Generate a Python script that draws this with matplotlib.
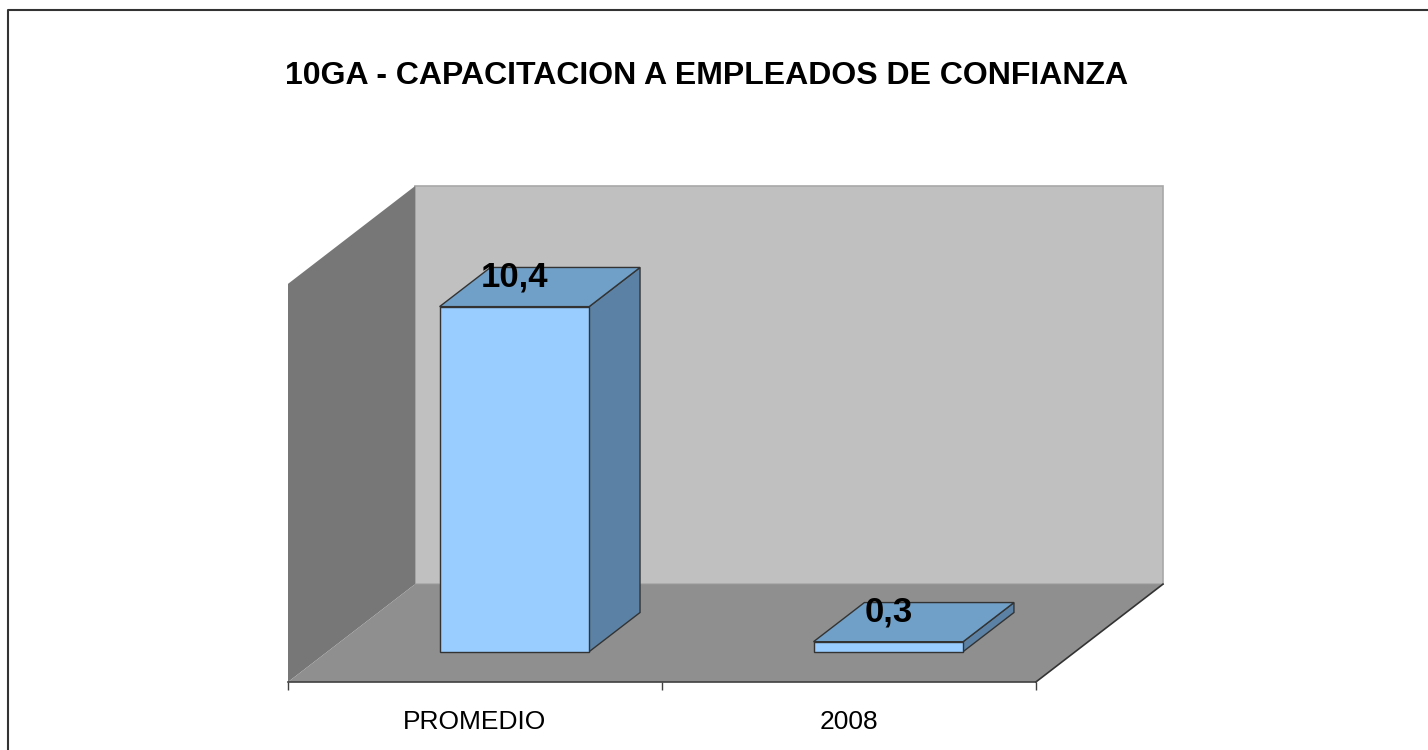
import matplotlib
matplotlib.use('Agg')
import matplotlib.pyplot as plt
from matplotlib.patches import Polygon
from matplotlib.lines import Line2D

plt.rcParams['font.family'] = ['Liberation Sans', 'DejaVu Sans']

# Datos
categorias = ['PROMEDIO', '2008']
valores = [10.4, 0.3]
etiquetas = ['10,4', '0,3']

y_max = 12
titulo = '10GA - CAPACITACION A EMPLEADOS DE CONFIANZA'

# Perspectiva "3D" estilo Excel
prof_x = 0.34   # desplazamiento de profundidad (unidades de categoria)
prof_y = 2.95   # desplazamiento de profundidad (unidades de valor)
ancho = 0.4
z0, z1 = 0.31, 0.71


def proy(x, y, z):
    return (x + z * prof_x, y + z * prof_y)


fig = plt.figure(figsize=(14.28, 7.5), dpi=100)
W, H = 1428, 750
ax = fig.add_axes([288 / W, 68 / H, (1163 - 288) / W, (682 - 186) / H])
ax.set_xlim(0, len(categorias) + prof_x)
ax.set_ylim(0, y_max + prof_y)

# --- paredes y suelo ---
n = len(categorias)
pared_fondo = [proy(0, 0, 1), proy(n, 0, 1), proy(n, y_max, 1), proy(0, y_max, 1)]
pared_izq = [proy(0, 0, 0), proy(0, 0, 1), proy(0, y_max, 1), proy(0, y_max, 0)]
suelo = [proy(0, 0, 0), proy(n, 0, 0), proy(n, 0, 1), proy(0, 0, 1)]

ax.add_patch(Polygon(pared_fondo, closed=True, facecolor='#C0C0C0',
                     edgecolor='#A8A8A8', lw=1.2, clip_on=False))
ax.add_patch(Polygon(pared_izq, closed=True, facecolor='#777777',
                     edgecolor='none', clip_on=False))
ax.add_patch(Polygon(suelo, closed=True, facecolor='#8F8F8F',
                     edgecolor='none', clip_on=False))
# borde derecho del suelo
xs, ys = zip(proy(n, 0, 0), proy(n, 0, 1))
ax.plot(xs, ys, color='#333333', lw=1.2, clip_on=False)

# --- barras ---
for i, v in enumerate(valores):
    x0 = i + 0.5 - ancho / 2
    x1 = x0 + ancho
    frente = [proy(x0, 0, z0), proy(x1, 0, z0), proy(x1, v, z0), proy(x0, v, z0)]
    tapa = [proy(x0, v, z0), proy(x1, v, z0), proy(x1, v, z1), proy(x0, v, z1)]
    lado = [proy(x1, 0, z0), proy(x1, 0, z1), proy(x1, v, z1), proy(x1, v, z0)]
    ax.add_patch(Polygon(lado, closed=True, facecolor='#5B82A4',
                         edgecolor='#333333', lw=1, clip_on=False))
    ax.add_patch(Polygon(tapa, closed=True, facecolor='#70A0C8',
                         edgecolor='#333333', lw=1, clip_on=False))
    ax.add_patch(Polygon(frente, closed=True, facecolor='#99CCFF',
                         edgecolor='#333333', lw=1, clip_on=False))
    lx, ly = proy(i + 0.5, v, z0)
    ax.text(lx, ly + 0.9, etiquetas[i], ha='center', va='center',
            fontsize=25, fontweight='bold', color='black', zorder=5)

# --- eje x ---
for s in ['top', 'right', 'left']:
    ax.spines[s].set_visible(False)
ax.spines['bottom'].set_bounds(0, n)
ax.spines['bottom'].set_color('#404040')
ax.spines['bottom'].set_linewidth(1.2)
ax.spines['bottom'].set_zorder(3)
ax.set_yticks([])
ax.set_xticks(range(n + 1))
ax.set_xticklabels([])
ax.tick_params(axis='x', which='major', length=6, width=1, color='#404040')
ax.set_xticks([i + 0.5 for i in range(n)], minor=True)
ax.set_xticklabels(categorias, minor=True)
ax.tick_params(axis='x', which='minor', length=0, pad=20, labelsize=19)
ax.patch.set_visible(False)

# titulo
fig.text(707 / W, 1 - 76 / H, titulo, ha='center', va='center',
         fontsize=23, fontweight='bold')

# marco del grafico
fig.add_artist(Line2D([8 / W, 8 / W, 1], [0, 1 - 10 / H, 1 - 10 / H],
                      transform=fig.transFigure, color='#333333', lw=1.5))

fig.savefig('out.png', dpi=100, facecolor='white')
